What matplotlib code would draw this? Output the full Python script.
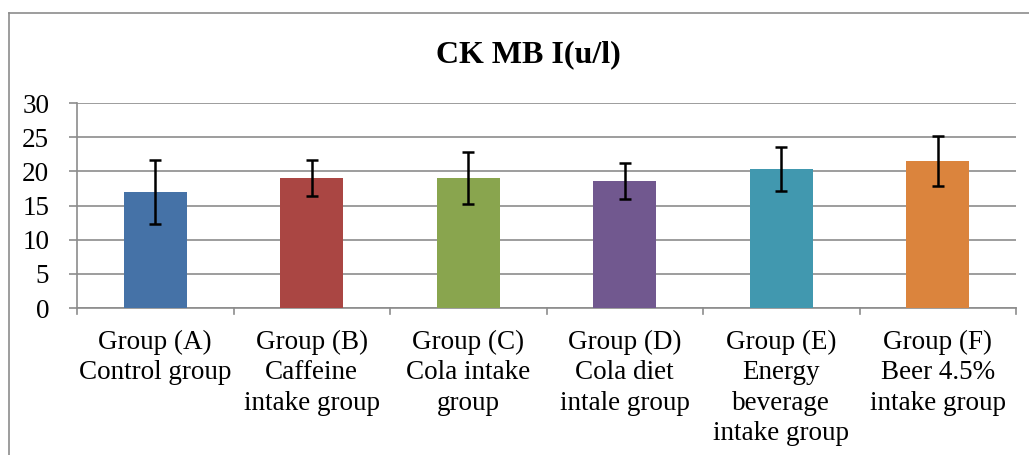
import matplotlib
matplotlib.use("Agg")
import matplotlib.pyplot as plt
from matplotlib.lines import Line2D

categories = [
    "Group (A)\nControl group",
    "Group (B)\nCaffeine\nintake group",
    "Group (C)\nCola intake\ngroup",
    "Group (D)\nCola diet\nintale group",
    "Group (E)\nEnergy\nbeverage\nintake group",
    "Group (F)\nBeer 4.5%\nintake group",
]
means = [17.0, 19.05, 19.05, 18.6, 20.35, 21.55]
errors = [4.7, 2.65, 3.85, 2.65, 3.2, 3.65]
colors = ["#4572A7", "#AA4643", "#89A54E", "#71588F", "#4198AF", "#DB843D"]
yticks = [0, 5, 10, 15, 20, 25, 30]
title = "CK MB I(u/l)"

plt.rcParams['font.family'] = ['Liberation Serif', 'DejaVu Serif']

W, H = 1029, 455
fig = plt.figure(figsize=(W / 100, H / 100), dpi=100)
ax = fig.add_axes([77 / W, 1 - 308 / H, (1016 - 77) / W, (308 - 103) / H])

x = list(range(len(categories)))
ax.bar(x, means, width=0.4, color=colors, zorder=3)
ax.errorbar(x, means, yerr=errors, fmt='none', ecolor='black', elinewidth=1.8,
            capsize=4.3, capthick=1.8, zorder=4)

ax.set_xlim(-0.5, len(categories) - 0.5)
ax.set_ylim(0, 30)
ax.set_yticks(yticks)
ax.set_yticklabels([str(v) for v in yticks])
ax.set_xticks(x)
ax.set_xticklabels(categories, linespacing=1.27)

grid_c = "#8c8c8c"
ax.yaxis.grid(True, color=grid_c, linewidth=1.2, zorder=0)
ax.set_axisbelow(True)
for s in ["top", "right"]:
    ax.spines[s].set_visible(False)
for s in ["left", "bottom"]:
    ax.spines[s].set_color(grid_c)
    ax.spines[s].set_linewidth(1.2)

ax.tick_params(axis='y', length=6, width=1.2, color=grid_c, labelsize=19.5, pad=14)
ax.tick_params(axis='x', length=0, labelsize=19.5, pad=16)
# category boundary tick marks
for b in range(len(categories) + 1):
    ax.plot([b - 0.5, b - 0.5], [0, -0.9], color=grid_c, linewidth=1.2,
            clip_on=False, zorder=2)

# chart frame
fig.add_artist(Line2D([8.5 / W, 8.5 / W], [0, 1 - 13 / H], color="#8c8c8c", linewidth=1.2))
fig.add_artist(Line2D([8.5 / W, 1], [1 - 13 / H, 1 - 13 / H], color="#8c8c8c", linewidth=1.2))

fig.text(528 / W, 1 - 55 / H, title, ha='center', va='center', fontsize=23,
         fontweight='bold')

fig.savefig("out.png", dpi=100, facecolor='white')
